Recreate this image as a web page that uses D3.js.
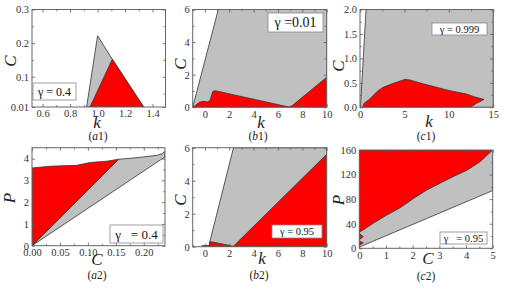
<!DOCTYPE html>
<html><head><meta charset="utf-8">
<script src="https://cdn.jsdelivr.net/npm/d3@7"></script>
<style>body{margin:0;background:#fff}svg text{font-family:"Liberation Serif","Times New Roman",serif;white-space:pre}</style>
</head><body><svg id="c" width="510" height="289"></svg>
<script>
// ---------- data ----------
// (a1) k vs C, gamma = 0.4
const a1XTicks = [0.6, 0.8, 1.0, 1.2, 1.4];
const a1XLabels = ["0.6", "0.8", "1.0", "1.2", "1.4"];
const a1YTicks = [0.01, 0.1, 0.2, 0.3];
const a1YLabels = ["0.01", "0.1", "0.2", "0.3"];
const a1Grey = [[0.92,0.01],[1.0,0.222],[1.107,0.152],[1.335,0.01]];
const a1Red = [[0.945,0.01],[1.107,0.152],[1.335,0.01]];

// (b1) k vs C, gamma = 0.01
const b1XTicks = [0, 2, 4, 6, 8, 10];
const b1YTicks = [0, 2, 4, 6];
const b1Grey = [[-1,0],[1.1,6],[10,6],[10,0]];
const b1RedLeft = [[-0.97,0],[-0.45,0.31],[-0.12,0.37],[0.2,0.33],[0.42,0.41],[0.64,0.96],[0.84,1.02],[7.0,0]];
const b1RedRight = [[7.0,0],[10,1.84],[10,0]];

// (c1) k vs C, gamma = 0.999
const c1XTicks = [0, 5, 10, 15];
const c1YTicks = [0, 0.5, 1.0, 1.5, 2.0];
const c1Grey = [[0.05,0],[0.68,2],[15,2],[15,0]];
const c1Red = [[0.3,0],[0.45,0.08],[1.1,0.17],[1.9,0.32],[2.6,0.41],[3.75,0.49],[5.06,0.57],[5.6,0.56],[7.1,0.48],[10.1,0.34],[12.0,0.27],[12.75,0.22],[13.95,0.16],[13.1,0.08],[12.4,0]];

// (a2) C vs P, gamma = 0.4
const a2XTicks = [0, 0.05, 0.10, 0.15, 0.20];
const a2YTicks = [0, 1, 2, 3, 4];
const a2Grey = [[0,0],[0.155,3.97],[0.17,4.0],[0.194,4.06],[0.224,4.15],[0.233,4.23],[0.238,4.34],[0.238,4.08]];
const a2Red = [[0,0],[0,3.57],[0.033,3.65],[0.08,3.69],[0.104,3.82],[0.134,3.88],[0.155,3.97]];

// (b2) k vs C, gamma = 0.95
const b2XTicks = [0, 2, 4, 6, 8, 10];
const b2YTicks = [0, 2, 4, 6];
const b2Grey = [[0.37,0],[0.37,0.2],[2.35,6],[10,6],[10,0]];
const b2RedSmall = [[0.37,0],[0.43,0.3],[0.75,0.27],[2.3,0.03],[2.3,0]];
const b2RedTiny = [[-0.25,0.02],[-0.25,0.06],[0.37,0.07],[0.37,0.02]];
const b2Red = [[2.3,0],[10,5.6],[10,0]];

// (c2) C vs P, gamma = 0.95
const c2XTicks = [0, 1, 2, 3, 4, 5];
const c2YTicks = [0, 40, 80, 120, 160];
const c2Grey = [[0,2],[0,160],[5,160],[5,94]];
const c2Red = [[0,26],[0,160],[5,160],[4.53,141],[4.03,127],[3.53,117],[3.03,106],[2.53,95],[2.03,81],[1.53,66],[1.03,54],[0.53,41],[0.15,30]];
const c2RedSpike1 = [[0,24],[0.15,19],[0,14]];
const c2RedSpike2 = [[0,12],[0.15,9],[0,5]];

const GREY = "#c0c0c0", RED = "#ff0000";

// ---------- drawing ----------
const svg = d3.select("#c");

function mid(t){ const m=[]; for(let i=0;i<t.length-1;i++) m.push((t[i]+t[i+1])/2); return m; }

function panel(cfg){
  const x = d3.scaleLinear().domain(cfg.xd).range([cfg.x0, cfg.x1]);
  const y = d3.scaleLinear().domain(cfg.yd).range([cfg.y1, cfg.y0]);
  const id = "clip_" + cfg.id;
  svg.append("clipPath").attr("id", id).append("rect")
    .attr("x", cfg.x0).attr("y", cfg.y0).attr("width", cfg.x1-cfg.x0).attr("height", cfg.y1-cfg.y0);
  const area = svg.append("g").attr("clip-path", `url(#${id})`);
  const line = d3.line().x(d=>x(d[0])).y(d=>y(d[1]));
  cfg.regions.forEach(r => area.append("path").attr("d", line(r.pts)+"Z")
    .attr("fill", r.fill).attr("stroke", "#333").attr("stroke-width", 0.8).attr("stroke-linejoin","round"));

  const xMinor = cfg.xMinor || mid(cfg.xt), yMinor = cfg.yMinor || mid(cfg.yt);
  function ax(gen, tx, ty, vals, labels, size){
    const a = gen.tickValues(vals).tickSizeInner(size).tickSizeOuter(0).tickPadding(labels ? 3 : 0)
      .tickFormat(labels ? ((d,i)=>labels[i]) : (()=>""));
    const g = svg.append("g").attr("transform", `translate(${tx},${ty})`).call(a);
    g.select(".domain").remove();
    g.selectAll("line").attr("stroke", "#555").attr("stroke-width", 0.8);
    g.selectAll("text").attr("font-family", '"Liberation Serif", serif').attr("font-size", 10.5).attr("fill", "#333");
    return g;
  }
  ax(d3.axisBottom(x), 0, cfg.y1, cfg.xt, cfg.xl, -3);
  ax(d3.axisBottom(x), 0, cfg.y1, xMinor, null, -1.8);
  ax(d3.axisTop(x), 0, cfg.y0, cfg.xt, null, -3);
  ax(d3.axisTop(x), 0, cfg.y0, xMinor, null, -1.8);
  ax(d3.axisLeft(y), cfg.x0, 0, cfg.yt, cfg.yl, -3);
  ax(d3.axisLeft(y), cfg.x0, 0, yMinor, null, -1.8);
  ax(d3.axisRight(y), cfg.x1, 0, cfg.yt, null, -3);
  ax(d3.axisRight(y), cfg.x1, 0, yMinor, null, -1.8);

  svg.append("rect").attr("x", cfg.x0).attr("y", cfg.y0).attr("width", cfg.x1-cfg.x0).attr("height", cfg.y1-cfg.y0)
    .attr("fill", "none").attr("stroke", "#666").attr("stroke-width", 1);

  // legend box
  const L = cfg.legend;
  svg.append("rect").attr("x", L.x).attr("y", L.y).attr("width", L.w).attr("height", L.h)
    .attr("fill", "#fff").attr("stroke", "#888").attr("stroke-width", 0.8);
  svg.append("text").attr("x", L.x + L.w/2).attr("y", L.y + L.h/2).attr("dy", "0.35em")
    .attr("text-anchor", "middle").attr("font-size", L.fs).attr("fill", "#111").text(L.text);

  // axis titles
  svg.append("text").attr("x", cfg.xt_pos[0]).attr("y", cfg.xt_pos[1]).attr("text-anchor", "middle")
    .attr("font-style", "italic").attr("font-size", 17).attr("fill", "#222").text(cfg.xTitle);
  svg.append("text").attr("transform", `translate(${cfg.yt_pos[0]},${cfg.yt_pos[1]}) rotate(-90)`)
    .attr("text-anchor", "middle").attr("dy", "0.35em")
    .attr("font-style", "italic").attr("font-size", 17).attr("fill", "#222").text(cfg.yTitle);
  // caption
  const cap = svg.append("text").attr("x", cfg.cap[0]).attr("y", cfg.cap[1]).attr("text-anchor", "middle")
    .attr("font-size", 11.5).attr("fill", "#222");
  cap.append("tspan").text("(");
  cap.append("tspan").attr("font-style", "italic").text(cfg.capLetter);
  cap.append("tspan").text(cfg.capNum + ")");
}

const fmtInt = v => v.map(d => String(d));

panel({id:"a1", x0:32, x1:165.5, y0:9.5, y1:107, xd:[0.523,1.494], yd:[0.01,0.3],
  xt:a1XTicks, xl:a1XLabels, yt:a1YTicks, yl:a1YLabels,
  xMinor:[0.6,0.7,0.8,0.9,1.0,1.1,1.2,1.3,1.4].filter((d,i)=>i%2==1), yMinor:[0.05,0.15,0.25],
  regions:[{pts:a1Grey, fill:GREY},{pts:a1Red, fill:RED}],
  legend:{x:33, y:83, w:43, h:17, text:"γ = 0.4", fs:12},
  xTitle:"k", xt_pos:[97,128], yTitle:"C", yt_pos:[10,61], cap:[98,140], capLetter:"a", capNum:"1"});

panel({id:"b1", x0:192.7, x1:326.7, y0:9.5, y1:107.3, xd:[-1,10], yd:[0,6],
  xt:b1XTicks, xl:fmtInt(b1XTicks), yt:b1YTicks, yl:fmtInt(b1YTicks),
  xMinor:[-1,1,3,5,7,9], yMinor:[1,3,5],
  regions:[{pts:b1Grey, fill:GREY},{pts:b1RedLeft, fill:RED},{pts:b1RedRight, fill:RED}],
  legend:{x:268, y:13, w:55, h:19, text:"γ =0.01", fs:14},
  xTitle:"k", xt_pos:[261,128], yTitle:"C", yt_pos:[180,64], cap:[258,140], capLetter:"b", capNum:"1"});

panel({id:"c1", x0:360, x1:493.3, y0:9.5, y1:107.3, xd:[0,15], yd:[0,2],
  xt:c1XTicks, xl:fmtInt(c1XTicks), yt:c1YTicks, yl:c1YTicks.map(d=>d.toFixed(1)),
  xMinor:[2.5,7.5,12.5], yMinor:[0.25,0.75,1.25,1.75],
  regions:[{pts:c1Grey, fill:GREY},{pts:c1Red, fill:RED}],
  legend:{x:432, y:23, w:55, h:12, text:"γ = 0.999", fs:10.5},
  xTitle:"k", xt_pos:[429,127], yTitle:"C", yt_pos:[338,66], cap:[426,140], capLetter:"c", capNum:"1"});

panel({id:"a2", x0:32, x1:165, y0:147.7, y1:245.7, xd:[0,0.238], yd:[0,4.5],
  xt:a2XTicks, xl:a2XTicks.map(d=>d.toFixed(2)), yt:a2YTicks, yl:fmtInt(a2YTicks),
  xMinor:[0.025,0.075,0.125,0.175,0.225], yMinor:[0.5,1.5,2.5,3.5],
  regions:[{pts:a2Grey, fill:GREY},{pts:a2Red, fill:RED}],
  legend:{x:110, y:225, w:53, h:18, text:"γ   = 0.4", fs:13},
  xTitle:"C", xt_pos:[97,265], yTitle:"P", yt_pos:[9,198], cap:[97,279], capLetter:"a", capNum:"2"});

panel({id:"b2", x0:192.7, x1:326.7, y0:147.7, y1:246.7, xd:[-1,10], yd:[0,6],
  xt:b2XTicks, xl:fmtInt(b2XTicks), yt:b2YTicks, yl:fmtInt(b2YTicks),
  xMinor:[-1,1,3,5,7,9], yMinor:[1,3,5],
  regions:[{pts:b2Grey, fill:GREY},{pts:b2RedSmall, fill:RED},{pts:b2RedTiny, fill:RED},{pts:b2Red, fill:RED}],
  legend:{x:272, y:225, w:50, h:13, text:"γ = 0.95", fs:10.5},
  xTitle:"k", xt_pos:[262,264], yTitle:"C", yt_pos:[180,200], cap:[259,279], capLetter:"b", capNum:"2"});

panel({id:"c2", x0:359.3, x1:492.7, y0:150, y1:248.3, xd:[0,5], yd:[0,160],
  xt:c2XTicks, xl:fmtInt(c2XTicks), yt:c2YTicks, yl:fmtInt(c2YTicks),
  xMinor:[0.5,1.5,2.5,3.5,4.5], yMinor:[20,60,100,140],
  regions:[{pts:c2Grey, fill:GREY},{pts:c2Red, fill:RED},{pts:c2RedSpike1, fill:RED},{pts:c2RedSpike2, fill:RED}],
  legend:{x:440, y:232, w:47, h:12, text:"γ   = 0.95", fs:10.5},
  xTitle:"C", xt_pos:[428,264], yTitle:"P", yt_pos:[338,200], cap:[426,280], capLetter:"c", capNum:"2"});
</script></body></html>
